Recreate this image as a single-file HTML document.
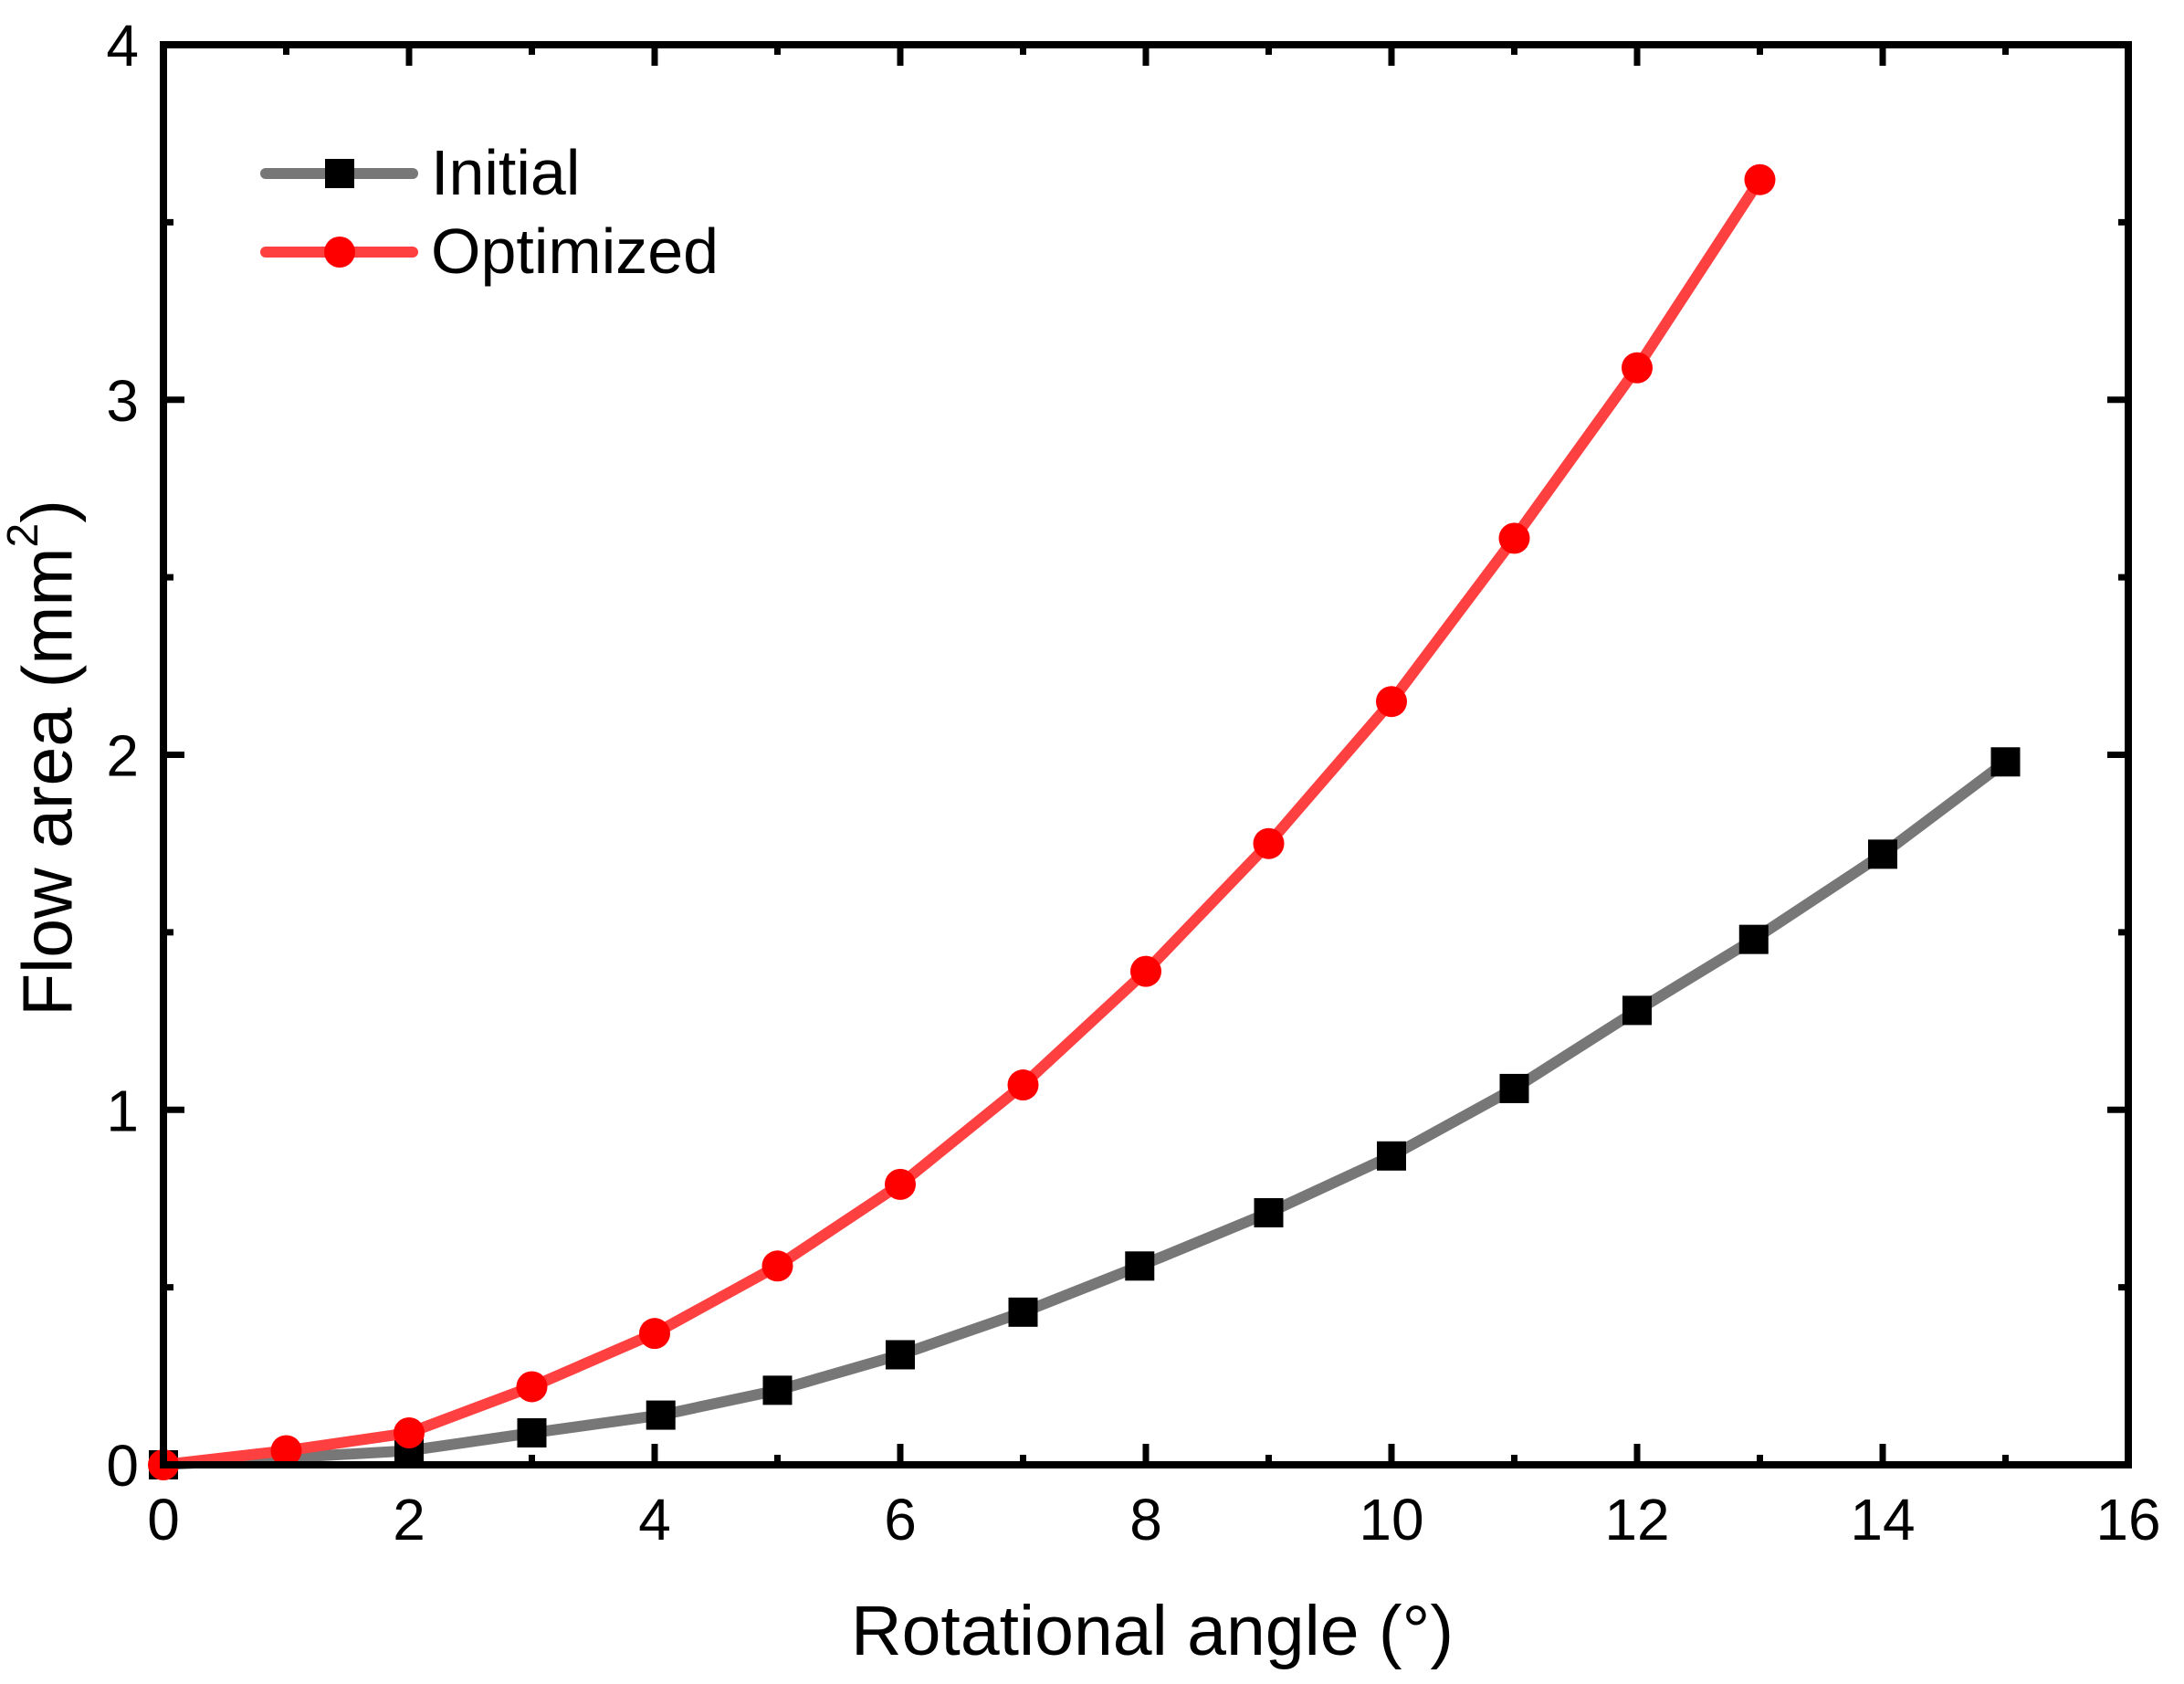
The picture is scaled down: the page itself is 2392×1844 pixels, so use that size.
<!DOCTYPE html>
<html><head><meta charset="utf-8"><style>
body{margin:0;background:#fff}
svg{display:block;font-family:"Liberation Sans",Arial,sans-serif}
</style></head><body>
<svg id="chart" width="2392" height="1844" viewBox="0 0 2392 1844">
<rect width="2392" height="1844" fill="#fff"/>
<g id="ticks"></g>
<g id="series"></g>
<rect x="179" y="49" width="2152" height="1555" fill="none" stroke="#000" stroke-width="8"/>
<text x="1262" y="1812" font-size="77" text-anchor="middle">Rotational angle (°)</text>
<text transform="translate(58,830) rotate(-90)" font-size="77" text-anchor="middle" dominant-baseline="middle">Flow area (mm<tspan font-size="48" dy="-30">2</tspan><tspan dy="30">)</tspan></text>
<g>
<line x1="291" y1="190" x2="452" y2="190" stroke="#777" stroke-width="12" stroke-linecap="round"/>
<rect x="356" y="174" width="32" height="32" fill="#000"/>
<text x="472" y="213" font-size="70">Initial</text>
<line x1="291" y1="276" x2="452" y2="276" stroke="#ff4040" stroke-width="12" stroke-linecap="round"/>
<circle cx="372" cy="276" r="17" fill="#f00"/>
<text x="472" y="299" font-size="70">Optimized</text>
</g>
</svg>
<script>
const initX=[0,2,3,4.05,5,6,7,7.95,9,10,11,12,12.95,14,15];
const initY=[0,0.04,0.09,0.14,0.21,0.31,0.43,0.56,0.71,0.87,1.06,1.28,1.48,1.72,1.98];
const optX=[0,1,2,3,4,5,6,7,8,9,10,11,12,13];
const optY=[0,0.04,0.09,0.22,0.37,0.56,0.79,1.07,1.39,1.75,2.15,2.61,3.09,3.62];
const xTicks=[0,2,4,6,8,10,12,14,16];
const yTicks=[0,1,2,3,4];
const NS="http://www.w3.org/2000/svg";
const L=179,R=2331,T=49,B=1604;
function sx(v){return L+(v-0)/16*(R-L);}
function sy(v){return B-(v-0)/4*(B-T);}
function mk(tag,attrs,parent){const e=document.createElementNS(NS,tag);for(const k in attrs)e.setAttribute(k,attrs[k]);parent.appendChild(e);return e;}
const tg=document.getElementById('ticks');
for(let v=0;v<=16;v+=1){
  const len=v%2===0?23:11;const x=sx(v);
  const t1=mk('line',{x1:x,y1:B,x2:x,y2:B-len,stroke:'#000','stroke-width':7},tg);
  
  
  mk('line',{x1:x,y1:T,x2:x,y2:T+len,stroke:'#000','stroke-width':7},tg);
}
for(let v=0;v<=4;v+=0.5){
  const len=Math.abs(v-Math.round(v))<1e-9?23:11;const y=sy(v);
  const t1=mk('line',{x1:L,y1:y,x2:L+len,y2:y,stroke:'#000','stroke-width':7},tg);
  
  
  mk('line',{x1:R,y1:y,x2:R-len,y2:y,stroke:'#000','stroke-width':7},tg);
}
xTicks.forEach(v=>{const t=mk('text',{x:sx(v),y:1686,'font-size':64,'text-anchor':'middle'},tg);t.textContent=v;

});
yTicks.forEach(v=>{const t=mk('text',{x:152,y:sy(v)+23,'font-size':64,'text-anchor':'end'},tg);t.textContent=v;

});
const sg=document.getElementById('series');
function line(xs,ys,color,name){
  const p=mk('polyline',{points:xs.map((x,i)=>sx(x)+','+sy(ys[i])).join(' '),fill:'none',stroke:color,'stroke-width':12,'stroke-linejoin':'round','stroke-linecap':'round'},sg);
  
  
}
line(initX,initY,'#777','initial-line');
initX.forEach((x,i)=>{const r=mk('rect',{x:sx(x)-16,y:sy(initY[i])-16,width:32,height:32,fill:'#000'},sg);

});
line(optX,optY,'#ff4040','optimized-line');
optX.forEach((x,i)=>{const c=mk('circle',{cx:sx(x),cy:sy(optY[i]),r:17,fill:'#f00'},sg);

});
</script>
</body></html>
